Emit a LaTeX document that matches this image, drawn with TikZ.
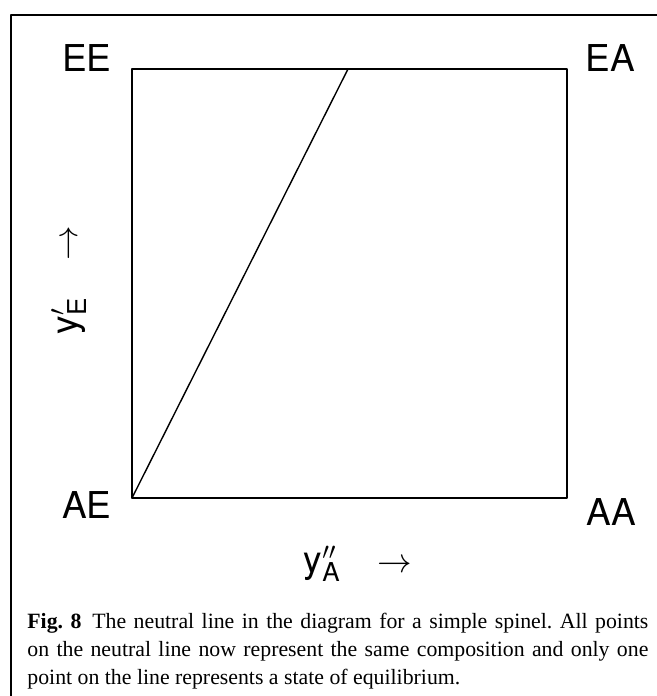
\documentclass[tikz,border=0pt]{standalone}
\usepackage{fontspec}
\setmainfont{Liberation Serif}
\newfontfamily\cornerfont{TeX Gyre Heros}
\usetikzlibrary{positioning}
\newcommand{\subsf}[1]{\mbox{\cornerfont\fontsize{13}{15}\selectfont #1}}
\frenchspacing

\begin{document}
\begin{tikzpicture}[x=0.5pt,y=-0.5pt,line cap=round,line join=round]
\tikzset{
  corner/.style={font=\cornerfont\fontsize{18.5}{22}\selectfont,inner sep=0pt},
  frame/.style={line width=1pt},
}
\useasboundingbox (0,0) rectangle (657,696);
% outer frame
\draw[frame] (657,15) -- (11,15) -- (11,696);

% composition square
\coordinate (ae) at (132,498);
\coordinate (aa) at (567,498);
\coordinate (ea) at (567,69);
\coordinate (ee) at (132,69);
\coordinate (neutral) at (348,69);
\draw[frame] (ae) -- (aa) -- (ea) -- (ee) -- cycle;
\draw[line width=0.7pt] (ae) -- (neutral);

% corner labels
\node[corner] (lEE) at (87,58) {EE};
\node[corner] (lEA) at (610,58) {EA};
\node[corner] (lAE) at (87,505) {AE};
\node[corner] (lAA) at (611,512) {AA};

% axis labels
\node[corner,rotate=90] (yE) at (69,280)
  {y${}^{\prime}_{\subsf{E}}$\quad$\rightarrow$};
\node[corner] (yA) at (358,564)
  {y${}^{\prime\prime}_{\subsf{A}}$\quad$\rightarrow$};

% caption
\node[anchor=north west,text width=310.5pt,align=justify,inner sep=0pt,
  font=\fontsize{10.9}{14}\selectfont] (caption) at (27,613)
  {\textbf{Fig.\ 8}\enspace The neutral line in the diagram for a simple spinel. All points\linebreak
   on the neutral line now represent the same composition and only one\linebreak
   point on the line represents a state of equilibrium.};
\end{tikzpicture}
\end{document}
